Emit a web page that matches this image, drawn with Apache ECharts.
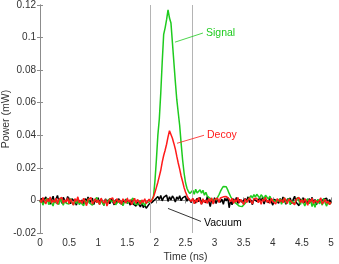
<!DOCTYPE html>
<html>
<head>
<meta charset="utf-8">
<script src="https://cdn.jsdelivr.net/npm/echarts@6/dist/echarts.min.js"></script>
<style>html,body{margin:0;padding:0;background:#fff}#c{width:339px;height:264px}</style>
</head>
<body>
<div id="c"></div>
<script>
// Sampling grid: 0 to 5 ns, step 0.025 ns (201 samples)
var timeStep = 0.025;
var xTicks = ['0','0.5','1','1.5','2','2.5','3','3.5','4','4.5','5'];
var yTicks = ['-0.02','0','0.02','0.04','0.06','0.08','0.1','0.12'];
var gateLines = [1.9, 2.62]; // ns

// Power values in microwatts (converted to mW when plotted)
var signalUW = [
-1.3,0.2,-2.9,-0.7,-1.8,1.4,-2.6,-0.1,-1.2,-3.4,
0.3,-1.5,-0.5,-2.4,1.5,-1.0,-3.0,0.0,-1.7,-0.8,
-2.2,1.2,-1.3,-2.7,-0.2,-1.8,0.4,-2.5,-1.2,-0.6,
-3.2,0.1,-2.0,1.1,-1.5,-0.8,-2.9,-0.4,-1.3,1.8,
-1.0,-2.4,0.0,-1.7,-3.0,0.4,-1.2,-2.2,1.2,-0.8,
-1.9,-0.1,-2.7,-1.3,0.1,-2.0,-0.6,-3.2,-1.0,0.4,
-1.7,-2.5,-0.4,-1.2,1.4,-2.0,-0.8,-2.7,-1.5,0.0,
-2.4,-1.0,-3.4,-1.3,-0.1,-0.9,
-0.5,0.3,2.5,12,25,40,50,66,85,102,106,111,117,112,109,97,85,73,62,54,46,35,25,17,11,7.5,5.5,4.2,4.8,
6.2,3.8,6.9,4.6,3.9,6.6,4.4,6.2,3.2,5.0,2.6,1.6,1.2,
0.8,0.2,1.0,0.5,1.8,3.5,5.5,7.2,8.6,9.3,8.4,6.5,4.3,2.4,0.9,-0.5,
-1.2,-2.0,-2.8,-3.5,-2.6,-3.8,-2.9,-1.8,-0.6,0.4,
1.2,2.9,1.5,3.6,2.0,3.8,2.6,1.4,3.5,2.4,1.1,3.2,2.0,0.8,2.6,0.5,1.7,-0.2,1.0,-0.8,
-1.0,0.9,-2.3,0.0,1.6,-1.7,-0.5,1.2,-2.7,-0.2,
0.6,-1.8,-0.8,1.9,-0.4,-2.5,0.8,-1.2,-3.4,-0.7,
1.1,-2.0,0.1,-3.8,-1.3,-4.2,-0.8,0.6,-2.1,-0.5,
-2.9,1.2,-1.5,-3.5,-0.4,-2.4,-1.1
];
var decoyUW = [
0.5,-1.3,1.8,-0.3,-2.2,1.0,-0.8,2.1,-1.6,0.2,
-1.1,1.4,-2.4,0.6,-0.5,1.9,-1.8,0.3,-1.0,1.6,
-2.1,0.8,-0.2,-2.9,1.1,-0.6,2.2,-1.4,0.0,-1.9,
1.3,-1.0,-3.2,0.5,-0.3,1.8,-2.2,-0.8,1.0,-1.4,
0.3,-2.6,1.4,-0.5,-1.8,0.6,-3.4,-1.1,0.8,-0.3,
1.6,-2.1,-0.6,1.1,-1.3,0.2,-2.4,1.0,-0.2,-1.6,
1.4,-1.0,0.5,-2.7,-0.3,1.3,-1.8,0.6,-0.8,-2.2,
0.3,-1.3,1.0,-1.9,-0.5,0.8,-1.0,
0.5,2.2,4.8,8.0,11.2,14.8,18.5,23.5,27.6,30.8,34.5,39.0,42.8,40.5,38.2,35.0,31.6,27.2,23.0,19.2,15.0,11.6,8.0,5.2,3.0,1.2,0.2,
-0.6,1.3,-2.1,0.5,-1.1,1.8,-0.3,-2.4,1.0,-1.4,
0.3,-1.8,1.1,-0.8,1.6,-2.2,0.6,-0.5,1.4,-1.3,
1.5,0.8,2.2,1.6,
2.4,1.8,0.9,-0.8,1.3,-1.9,0.5,-1.0,1.8,-1.6,
0.6,-0.3,-2.6,1.1,-1.3,0.3,1.6,-0.6,-2.1,1.0,
-0.2,1.4,-1.4,0.5,-2.4,0.8,-0.5,1.9,-1.1,0.2,
-1.8,1.3,-0.6,0.3,-2.2,1.0,2.2,-0.8,0.5,-1.4,
1.6,-0.3,-1.9,0.8,1.4,-1.0,0.2,-2.7,0.6,-0.5,
1.8,-1.3,0.3,-1.6,1.1,-0.6,-3.0,0.5,-1.0,1.3,
-1.9,0.0,1.0,-1.4,-0.3,1.6,-2.2,-0.8,0.6,-1.8,
-0.5,-2.6,-1.1
];
var vacuumUW = [
-1.0,1.4,-1.9,0.6,2.1,-0.5,1.1,-2.4,0.3,2.6,
-1.3,0.8,3.0,-0.6,1.3,-1.8,1.9,0.2,-1.1,2.4,
0.5,-2.1,1.0,1.6,-0.8,-2.9,0.6,1.8,-1.4,0.3,
-2.2,1.1,-0.3,2.1,-1.6,-0.6,1.4,-2.6,0.5,-1.1,
1.6,-1.9,0.8,-0.2,-3.0,1.0,-1.3,0.3,-2.1,1.3,
-0.8,-2.7,0.5,-1.6,1.1,-0.6,-2.4,0.2,-1.4,0.8,
-1.8,-0.5,-2.9,0.3,-2.2,-1.1,-3.5,-0.8,-2.6,-4.0,
-1.6,-4.4,-2.8,-4.8,-3.6,-2.3,-3.0,-1.2,-0.3,0.6,
1.3,2.4,0.5,3.0,-0.3,1.9,1.0,3.2,-0.6,2.2,
0.3,2.7,1.4,-1.0,2.1,0.6,2.9,-0.2,1.6,0.8,
2.6,-0.5,1.4,0.3,-1.3,1.0,
0.5,-1.6,1.3,-0.8,1.9,-2.2,0.2,1.1,-1.4,2.4,
-0.5,-3.8,0.6,-1.0,1.6,-1.9,0.3,1.4,-1.1,0.8,
-2.4,1.3,-0.3,2.1,-4.5,0.0,-2.7,1.0,-0.6,1.8,
-1.8,0.5,1.4,-1.0,-2.1,1.1,-0.2,2.2,-1.3,0.3,
-2.6,0.8,1.6,-0.6,-1.6,1.3,-0.3,1.9,-2.2,0.5,
1.0,-1.4,1.8,-0.8,-2.9,0.6,1.4,-0.5,-1.8,1.1,
-1.0,2.1,0.2,-2.4,0.8,-0.3,1.3,-1.9,0.5,2.6,
-1.1,-0.2,-3.2,1.0,-0.6,1.6,-1.4,0.3,-2.1,1.1,
-0.8,1.9,-1.6,0.6,-2.7,0.2,1.3,-1.0,-2.2,0.8,
-0.3,1.4,-1.8,0.5,-1.3
];

// Annotation anchors in data coordinates [time ns, power mW]
var annotations = [
  {text:'Signal', color:'#1ecb1e', from:[2.32,0.0972], to:[2.80,0.1028], label:[2.852,0.1028]},
  {text:'Decoy',  color:'#ff1a1a', from:[2.354,0.0351], to:[2.818,0.0400], label:[2.869,0.0400]},
  {text:'Vacuum', color:'#000000', from:[2.199,-0.0049], to:[2.766,-0.0129], label:[2.818,-0.0138]}
];

function toPairs(arr){
  return arr.map(function(v,i){ return [+(i*timeStep).toFixed(3), v/1000]; });
}

var FONT = '"Liberation Sans", Arial, Helvetica, sans-serif';
var AXC = '#8c8c8c';
var LBL = '#333333';

function annSeries(a){
  return {
    type:'line', data:[], silent:true,
    markLine:{symbol:['none','none'], silent:true, animation:false,
      lineStyle:{color:a.color, width:0.8, type:'solid'}, label:{show:false},
      data:[[{coord:a.from},{coord:a.to}]]},
    markPoint:{symbol:'circle', symbolSize:0, silent:true, animation:false,
      data:[{coord:a.label, label:{show:true, position:'right', distance:0, formatter:a.text,
        color:a.color, fontSize:10.5, fontFamily:FONT}}]}
  };
}

var chart = echarts.init(document.getElementById('c'), null, {renderer:'canvas'});
var lineW = 1.5;
var option = {
  animation:false,
  backgroundColor:'#fff',
  grid:{left:40, right:8, top:5, bottom:31, containLabel:false, outerBoundsMode:'none'},
  xAxis:[{
    type:'value', min:0, max:5, interval:0.5,
    name:'Time (ns)', nameLocation:'middle', nameGap:19, nameMoveOverlap:false,
    nameTextStyle:{color:LBL, fontSize:10.5, fontFamily:FONT},
    axisLine:{show:true, lineStyle:{color:AXC, width:1}},
    axisTick:{show:true, inside:true, length:3, lineStyle:{color:AXC}},
    axisLabel:{color:LBL, fontSize:10, fontFamily:FONT, margin:5,
      formatter:function(v){ return xTicks[Math.round(v/0.5)]; }},
    splitLine:{show:false}
  },{
    type:'value', min:0, max:5, interval:0.5, position:'top',
    axisLine:{show:true, lineStyle:{color:AXC, width:1}},
    axisTick:{show:true, inside:true, length:3, lineStyle:{color:AXC}},
    axisLabel:{show:false}, splitLine:{show:false}
  }],
  yAxis:[{
    type:'value', min:-0.02, max:0.12, interval:0.02,
    name:'Power (mW)', nameLocation:'middle', nameGap:28, nameMoveOverlap:false,
    nameTextStyle:{color:LBL, fontSize:10.5, fontFamily:FONT},
    axisLine:{show:true, lineStyle:{color:AXC, width:1}},
    axisTick:{show:true, inside:true, length:3, lineStyle:{color:AXC}},
    axisLabel:{color:LBL, fontSize:10, fontFamily:FONT, margin:4,
      formatter:function(v){ return yTicks[Math.round((v+0.02)/0.02)]; }},
    splitLine:{show:false}
  },{
    type:'value', min:-0.02, max:0.12, interval:0.02, position:'right',
    axisLine:{show:true, lineStyle:{color:AXC, width:1}},
    axisTick:{show:true, inside:true, length:3, lineStyle:{color:AXC}},
    axisLabel:{show:false}, splitLine:{show:false}
  }],
  series:[
    {type:'line', data:[], silent:true,
      markLine:{symbol:['none','none'], silent:true, animation:false, label:{show:false},
        lineStyle:{color:'#b4b4b4', width:1, type:'solid'},
        data:gateLines.map(function(x){ return {xAxis:x}; })}},
    {name:'Vacuum', type:'line', data:toPairs(vacuumUW), showSymbol:false, symbol:'none',
      lineStyle:{color:'#000000', width:lineW}, z:3},
    {name:'Signal', type:'line', data:toPairs(signalUW), showSymbol:false, symbol:'none',
      lineStyle:{color:'#1ecb1e', width:lineW}, z:4},
    {name:'Decoy', type:'line', data:toPairs(decoyUW), showSymbol:false, symbol:'none',
      lineStyle:{color:'#ff1a1a', width:lineW}, z:5}
  ].concat(annotations.map(annSeries))
};
chart.setOption(option);
</script>
</body>
</html>
